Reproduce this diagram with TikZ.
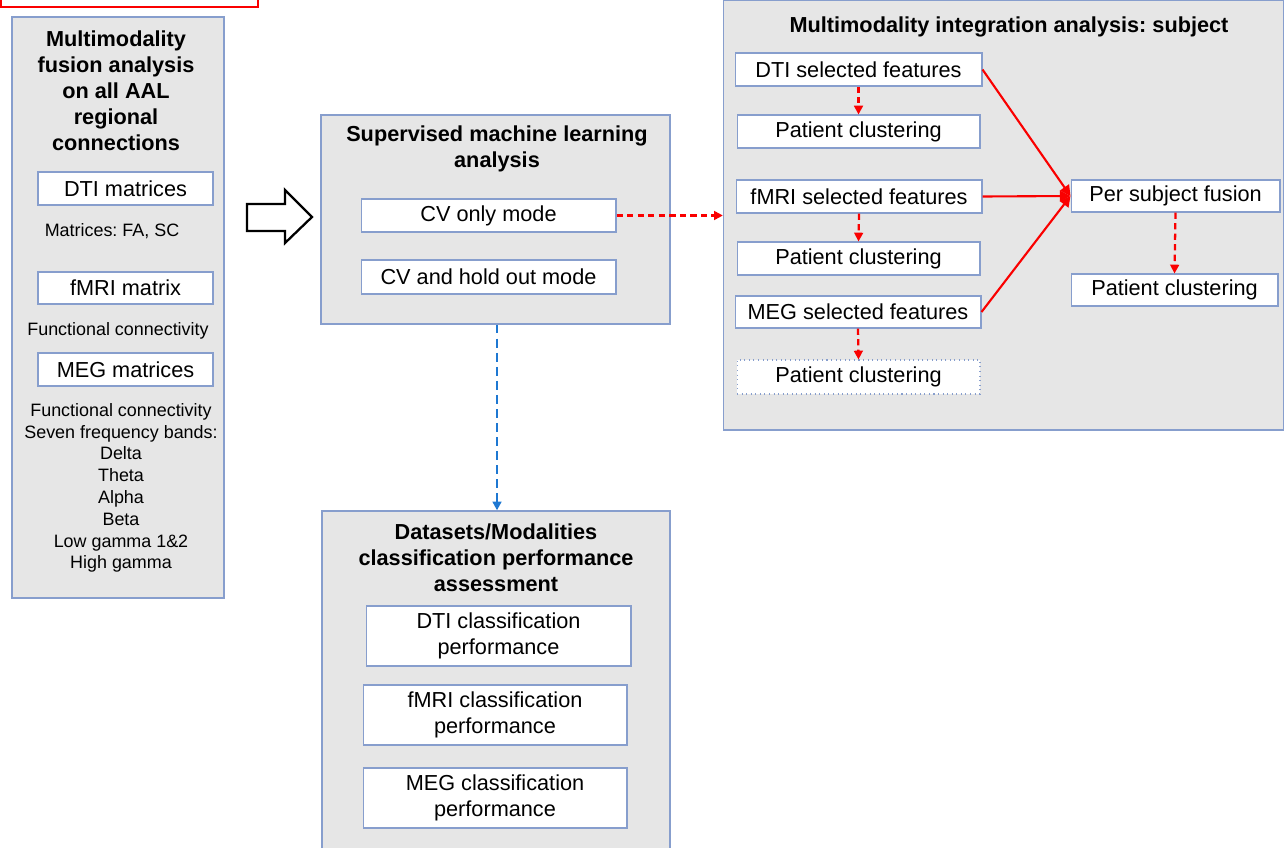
\documentclass[tikz,border=0pt]{standalone}
\usepackage{fontspec}
\setmainfont{Liberation Sans}
\usetikzlibrary{arrows.meta}
\frenchspacing
\definecolor{bordc}{RGB}{135,158,205}
\definecolor{panelc}{RGB}{230,230,230}
\definecolor{redc}{RGB}{250,0,0}
\definecolor{bluec}{RGB}{30,120,210}
\newcommand\normsz{\fontsize{12.35}{14.74}\selectfont}
\newcommand\smallsz{\fontsize{10.2}{12.4}\selectfont}
\tikzset{
  panel/.style={draw=bordc, fill=panelc, line width=0.8pt, inner sep=0pt, rectangle},
  wbox/.style={draw=bordc, fill=white, line width=0.6pt, inner sep=0pt, align=center, font=\normsz, rectangle},
  head/.style={font=\normsz\bfseries, align=center, inner sep=0pt},
  smalltxt/.style={font=\smallsz, align=center, inner sep=0pt},
  rdash/.style={draw=redc, line width=1.3pt, dash pattern=on 3.6pt off 2.4pt, -{Triangle[length=5pt,width=5pt,fill=redc]}},
  rsolid/.style={draw=redc, line width=1.2pt, -{Triangle[length=6pt,width=6pt,fill=redc]}},
  bdash/.style={draw=bluec, line width=1.5pt, dash pattern=on 5pt off 3pt, -{Triangle[length=5pt,width=5pt,fill=bluec]}},
}
\begin{document}
\begin{tikzpicture}[x=0.02cm, y=-0.02cm]
\useasboundingbox (0,0) rectangle (1284,848);
\clip (0,0) rectangle (1284,848);
\fill[white] (0,0) rectangle (1284,848);

% top-left red box (cut off)
\draw[redc, line width=0.9pt] (1,-20) rectangle (258,7);

% panels
\node[panel, minimum width=4.24cm, minimum height=11.62cm] (left) at (118,307.5) {};
\node[panel, minimum width=6.98cm, minimum height=4.18cm] (mid) at (495.5,219.5) {};
\node[panel, minimum width=11.2cm, minimum height=8.6cm] (right) at (1003.5,215) {};
\node[panel, minimum width=6.96cm, minimum height=7.78cm] (bot) at (496,705.5) {};

% left panel
\node[head] (lefthead) at (116,90.5) {Multimodality\\fusion analysis\\on all AAL\\regional\\connections};
\node[wbox, minimum width=3.5cm, minimum height=0.66cm] (dtim) at (125.5,188.5) {DTI matrices};
\node[smalltxt] (dtimtxt) at (112,231) {Matrices: FA, SC};
\node[wbox, minimum width=3.5cm, minimum height=0.64cm] (fmrim) at (125.5,288) {fMRI matrix};
\node[smalltxt] (fmrimtxt) at (118,331) {Functional connectivity};
\node[wbox, minimum width=3.5cm, minimum height=0.66cm] (megm) at (125.5,369.5) {MEG matrices};
\node[smalltxt] (megmtxt) at (121,488) {Functional connectivity\\Seven frequency bands:\\Delta\\Theta\\Alpha\\Beta\\Low gamma 1\&2\\High gamma};

% hollow arrow
\draw[black, line width=1.3pt, line join=miter] (247,204) -- (285,204) -- (285,190) -- (312,217) -- (285,243) -- (285,231) -- (247,231) -- cycle;

% middle panel
\node[head] (midhead) at (497,149) {Supervised machine learning\\analysis};
\node[wbox, minimum width=5.1cm, minimum height=0.66cm] (cvonly) at (488.5,215.5) {CV only mode};
\node[wbox, minimum width=5.1cm, minimum height=0.68cm] (cvhold) at (488.5,277) {CV and hold out mode};

% right panel
\node[head] (righthead) at (1009,27) {Multimodality integration analysis: subject};
\node[wbox, minimum width=4.94cm, minimum height=0.66cm] (dtisel) at (858.5,69.5) {DTI selected features};
\node[wbox, minimum width=4.86cm, minimum height=0.66cm] (pc1) at (858.5,131.5) {Patient clustering};
\node[wbox, minimum width=4.92cm, minimum height=0.66cm] (fmrisel) at (859,196.5) {fMRI selected features};
\node[wbox, minimum width=4.86cm, minimum height=0.66cm] (pc2) at (858.5,258.5) {Patient clustering};
\node[wbox, minimum width=4.92cm, minimum height=0.64cm] (megsel) at (858,312) {MEG selected features};
\node[wbox, dotted, minimum width=4.86cm, minimum height=0.68cm] (pc3) at (858.5,377) {Patient clustering};
\node[wbox, minimum width=4.18cm, minimum height=0.64cm] (fusion) at (1175.5,196) {Per subject fusion};
\node[wbox, minimum width=4.14cm, minimum height=0.64cm] (pc4) at (1174.5,290) {Patient clustering};

% bottom panel
\node[head] (bothead) at (496,558) {Datasets/Modalities\\classification performance\\assessment};
\node[wbox, minimum width=5.3cm, minimum height=1.2cm] (dticl) at (498.5,636) {DTI classification\\performance};
\node[wbox, minimum width=5.28cm, minimum height=1.2cm] (fmricl) at (495,715) {fMRI classification\\performance};
\node[wbox, minimum width=5.28cm, minimum height=1.2cm] (megcl) at (495,798) {MEG classification\\performance};

% connectors
\draw[rdash] (cvonly.east) -- (cvonly.east -| right.west);
\draw[rdash] (dtisel.south) -- (pc1.north);
\draw[rdash] (fmrisel.south) -- (pc2.north);
\draw[rdash] (megsel.south) -- (pc3.north);
\draw[rdash] (fusion.south) -- (pc4.north);
\draw[rsolid] (dtisel.east) -- (fusion.west);
\draw[rsolid] (fmrisel.east) -- (fusion.west);
\draw[rsolid] (megsel.east) -- (fusion.west);
\draw[bdash] (mid.south -| 497,0) -- (bot.north -| 497,0);
\end{tikzpicture}
\end{document}
